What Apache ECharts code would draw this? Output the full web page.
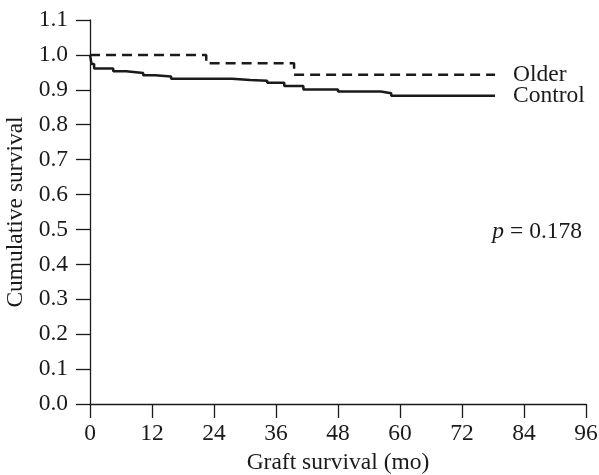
<!DOCTYPE html>
<html>
<head>
<meta charset="utf-8">
<script src="https://cdn.jsdelivr.net/npm/echarts@6/dist/echarts.min.js"></script>
<style>
  html, body { margin: 0; padding: 0; background: #fff; }
  #chart { width: 599px; height: 475px; }
</style>
</head>
<body>
<div id="chart"></div>
<script>
// Kaplan-Meier steps: [month, survival after event]
const olderMonths = [0, 22.5, 39.5, 78.4];
const olderSurvival = [1.0, 0.976, 0.943, 0.943];

const controlMonths = [0, 0.3, 0.8, 4.5, 7.0, 10.3, 12.6, 15.7, 27.5, 31.0, 34.3, 37.6, 41.3, 48.0, 56.3, 58.3, 78.4];
const controlSurvival = [1.0, 0.974, 0.961, 0.953, 0.948, 0.942, 0.938, 0.932, 0.928, 0.926, 0.920, 0.911, 0.901, 0.895, 0.890, 0.883, 0.883];

const xTicks = [0, 12, 24, 36, 48, 60, 72, 84, 96];
const pValue = "0.178";

const font = "Liberation Serif";
const fs = 23.5;
const ink = "#1a1a1a";

const chart = echarts.init(document.getElementById("chart"));

const zip = (xs, ys) => xs.map((x, i) => [x, ys[i]]);

const option = {
  animation: false,
  grid: { left: 90, right: 13, top: 20, bottom: 71, outerBoundsMode: "none", containLabel: false },
  xAxis: {
    type: "value",
    min: xTicks[0],
    max: xTicks[xTicks.length - 1],
    interval: 12,
    name: "Graft survival (mo)",
    nameLocation: "middle",
    nameGap: 47,
    nameTextStyle: { fontFamily: font, fontSize: fs, color: ink },
    axisLine: { onZero: false, lineStyle: { color: ink, width: 1.3 } },
    axisTick: { length: 14, lineStyle: { color: ink, width: 1.3 } },
    axisLabel: { margin: 18, fontFamily: font, fontSize: fs, color: ink },
    splitLine: { show: false }
  },
  yAxis: {
    type: "value",
    min: 0,
    max: 1.1,
    interval: 0.1,
    name: "Cumulative survival",
    nameLocation: "middle",
    nameGap: 57,
    nameTextStyle: { fontFamily: font, fontSize: fs, color: ink },
    axisLine: { show: true, onZero: false, lineStyle: { color: ink, width: 1.3 } },
    axisTick: { show: true, length: 14, lineStyle: { color: ink, width: 1.3 } },
    axisLabel: {
      margin: 22,
      fontFamily: font,
      fontSize: fs,
      color: ink,
      formatter: (v) => v.toFixed(1)
    },
    splitLine: { show: false }
  },
  series: [
    {
      name: "Older",
      type: "line",
      step: "end",
      data: zip(olderMonths, olderSurvival),
      showSymbol: false,
      lineStyle: { color: ink, width: 2.5, type: [10, 6] },
      endLabel: {
        show: true,
        formatter: "Older",
        distance: 18,
        fontFamily: font,
        fontSize: fs,
        color: ink
      }
    },
    {
      name: "Control",
      type: "line",
      step: "end",
      data: zip(controlMonths, controlSurvival),
      showSymbol: false,
      lineStyle: { color: ink, width: 2.5 },
      endLabel: {
        show: true,
        formatter: "Control",
        distance: 18,
        fontFamily: font,
        fontSize: fs,
        color: ink
      }
    }
  ],
  graphic: [
    {
      type: "text",
      right: 17,
      top: 220,
      style: {
        text: "{i|p} = " + pValue,
        fontFamily: font,
        fontSize: fs,
        fill: ink,
        rich: {
          i: { fontFamily: font, fontSize: fs, fontStyle: "italic", fill: ink }
        }
      }
    }
  ]
};

chart.setOption(option);
</script>
</body>
</html>
